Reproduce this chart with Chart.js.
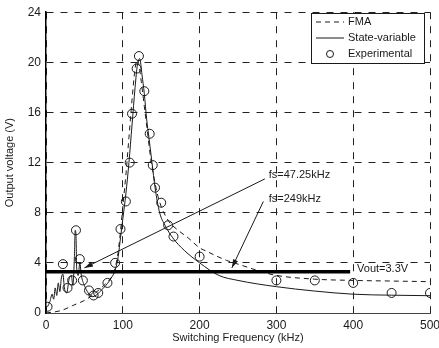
<!DOCTYPE html>
<html>
<head>
<meta charset="utf-8">
<script src="https://cdn.jsdelivr.net/npm/chart.js@4/dist/chart.umd.min.js"></script>
<style>
  html, body { margin: 0; padding: 0; background: #fff; }
  canvas { display: block; }
</style>
</head>
<body>
<canvas id="chart" width="439" height="348"></canvas>
<script>
// Data (frequency in kHz, voltage in V)
const xTickValues = [0, 100, 200, 300, 400, 500];
const yTickValues = [0, 4, 8, 12, 16, 20, 24];

const fmaFreq = [0, 20, 35, 50, 60, 70, 80, 88, 93, 97, 100, 104, 108, 112, 116, 119, 121, 124, 128, 132, 136, 140, 145, 150, 160, 170, 185, 200, 210, 220, 235, 250, 265, 280, 300, 350, 400, 450, 500];
const fmaVolt = [0, 0.2, 0.6, 1.0, 1.4, 1.9, 2.5, 3.2, 4.5, 6.5, 8.5, 11, 14, 17, 19.5, 20.2, 19.8, 18.5, 16.5, 14.5, 12.5, 11, 9.5, 8.5, 7.3, 6.7, 6.0, 5.2, 4.9, 4.6, 4.2, 3.9, 3.6, 3.3, 3.0, 2.7, 2.6, 2.55, 2.5];

const svFreq = [2, 5, 8, 10, 12, 14, 16, 18, 20, 22, 24, 27, 30, 33, 35, 37, 38, 39, 40, 42, 44, 46, 50, 55, 60, 65, 70, 78, 85, 90, 94, 97, 100, 104, 108, 112, 116, 119, 122, 125, 128, 131, 134, 138, 142, 148, 155, 165, 180, 200, 225, 250, 300, 350, 400, 450, 500];
const svVolt = [0.5, 0.9, 1.5, 1.1, 2.0, 1.4, 2.4, 1.7, 2.8, 3.1, 2.0, 1.6, 2.7, 3.0, 2.2, 4.5, 6.6, 6.3, 3.5, 3.0, 4.0, 3.0, 2.2, 1.6, 1.3, 1.4, 1.7, 2.2, 2.8, 3.4, 4.5, 6.0, 7.5, 9.5, 12, 15, 18, 19.8, 20.3, 19, 17.5, 15.5, 14, 12, 10, 8, 7, 6.0, 5.0, 4.0, 3.0, 2.6, 2.1, 1.75, 1.5, 1.42, 1.38];

const expFreq = [2, 22, 28, 34, 39, 44, 48, 56, 62, 68, 80, 90, 97, 104, 109, 112, 118, 121, 128, 135, 139, 142, 150, 159, 166, 200, 300, 350, 400, 450, 500];
const expVolt = [0.5, 3.9, 2.0, 2.6, 6.6, 4.3, 2.6, 1.8, 1.4, 1.6, 2.4, 4.0, 6.7, 8.9, 12.0, 15.9, 19.5, 20.5, 17.7, 14.3, 11.8, 10.0, 8.8, 7.0, 6.1, 4.5, 2.6, 2.6, 2.4, 1.6, 1.6];

const voutFreq = [0, 396];
const voutVolt = [3.3, 3.3];

const legendLabels = ['FMA', 'State-variable', 'Experimental'];
const annotations = [
    { text: 'fs=47.25kHz', tx: 290, ty: 11.0, fx: 285, fy: 10.7, hx: 50, hy: 3.6 },
    { text: 'fs=249kHz', tx: 290, ty: 9.1, fx: 283, fy: 8.9, hx: 242, hy: 3.6 }
];
const voutLabel = { text: 'Vout=3.3V', x: 405, y: 3.5 };

const pts = (xs, ys) => xs.map((x, i) => ({ x, y: ys[i] }));
const FONT = "'Liberation Sans', Arial, sans-serif";
const INK = '#1a1a1a';

const overlay = {
    id: 'overlay',
    afterDatasetsDraw(chart) {
        const ctx = chart.ctx;
        const xs = chart.scales.x, ys = chart.scales.y;
        const px = v => xs.getPixelForValue(v);
        const py = v => ys.getPixelForValue(v);
        ctx.save();
        ctx.font = '11px ' + FONT;
        ctx.fillStyle = INK;
        ctx.strokeStyle = INK;
        ctx.textBaseline = 'middle';

        // annotation arrows
        annotations.forEach(a => {
            const x1 = px(a.fx), y1 = py(a.fy), x2 = px(a.hx), y2 = py(a.hy);
            ctx.lineWidth = 1;
            ctx.beginPath(); ctx.moveTo(x1, y1); ctx.lineTo(x2, y2); ctx.stroke();
            const ang = Math.atan2(y2 - y1, x2 - x1);
            ctx.beginPath();
            ctx.moveTo(x2, y2);
            ctx.lineTo(x2 - 9 * Math.cos(ang - 0.3), y2 - 9 * Math.sin(ang - 0.3));
            ctx.lineTo(x2 - 9 * Math.cos(ang + 0.3), y2 - 9 * Math.sin(ang + 0.3));
            ctx.closePath(); ctx.fill();
            ctx.textAlign = 'left';
            ctx.fillText(a.text, px(a.tx), py(a.ty));
        });

        // Vout label
        ctx.textAlign = 'left';
        ctx.fillText(voutLabel.text, px(voutLabel.x), py(voutLabel.y));

        // legend box
        const bx = 311, by = 13, bw = 113, bh = 50;
        ctx.fillStyle = '#fff';
        ctx.fillRect(bx, by, bw, bh);
        ctx.lineWidth = 1;
        ctx.strokeRect(bx + 0.5, by + 0.5, bw, bh);
        ctx.fillStyle = INK;
        const rows = [by + 9, by + 25, by + 41];
        ctx.setLineDash([5, 4]);
        ctx.beginPath(); ctx.moveTo(bx + 5, rows[0]); ctx.lineTo(bx + 33, rows[0]); ctx.stroke();
        ctx.setLineDash([]);
        ctx.beginPath(); ctx.moveTo(bx + 5, rows[1]); ctx.lineTo(bx + 33, rows[1]); ctx.stroke();
        ctx.beginPath(); ctx.arc(bx + 19, rows[2], 3.5, 0, Math.PI * 2); ctx.stroke();
        legendLabels.forEach((t, i) => ctx.fillText(t, bx + 37, rows[i]));
        ctx.restore();
    }
};

new Chart(document.getElementById('chart'), {
    type: 'scatter',
    data: {
        datasets: [
            {
                label: 'Vout',
                data: pts(voutFreq, voutVolt),
                showLine: true,
                borderColor: '#000',
                borderWidth: 3.5,
                pointRadius: 0
            },
            {
                label: legendLabels[0],
                data: pts(fmaFreq, fmaVolt),
                showLine: true,
                borderColor: INK,
                borderWidth: 1,
                borderDash: [5, 4],
                cubicInterpolationMode: 'monotone',
                pointRadius: 0
            },
            {
                label: legendLabels[1],
                data: pts(svFreq, svVolt),
                showLine: true,
                borderColor: INK,
                borderWidth: 1,
                cubicInterpolationMode: 'monotone',
                pointRadius: 0
            },
            {
                label: legendLabels[2],
                data: pts(expFreq, expVolt),
                showLine: false,
                pointRadius: 4.5,
                pointBorderColor: INK,
                pointBackgroundColor: 'rgba(0,0,0,0)',
                pointBorderWidth: 1
            }
        ]
    },
    options: {
        responsive: false,
        animation: false,
        layout: { padding: { top: 11, right: 0, left: 0, bottom: 0 } },
        plugins: { legend: { display: false }, tooltip: { enabled: false } },
        scales: {
            x: {
                type: 'linear',
                min: 0, max: 500,
                afterBuildTicks: s => { s.ticks = xTickValues.map(v => ({ value: v })); },
                afterFit: s => { s.height = 35; s.paddingRight = 9; s.paddingLeft = 0; },
                grid: { color: '#222', lineWidth: 1, drawTicks: false },
                border: { display: true, color: '#444', width: 1, dash: [7, 7] },
                ticks: { color: INK, font: { family: FONT, size: 12 }, padding: 5, maxRotation: 0 },
                title: { display: true, text: 'Switching Frequency (kHz)', color: INK, font: { family: FONT, size: 11 }, padding: 3 }
            },
            y: {
                type: 'linear',
                min: 0, max: 24,
                afterBuildTicks: s => { s.ticks = yTickValues.map(v => ({ value: v })); },
                afterFit: s => { s.width = 46; },
                grid: { color: '#222', lineWidth: 1, drawTicks: false },
                border: { display: true, color: '#000', width: 1.5, dash: [7, 7] },
                ticks: { color: INK, font: { family: FONT, size: 12 }, padding: 5 },
                title: { display: true, text: 'Output voltage (V)', color: INK, font: { family: FONT, size: 11 }, padding: 3 }
            }
        }
    },
    plugins: [overlay]
});
</script>
</body>
</html>
